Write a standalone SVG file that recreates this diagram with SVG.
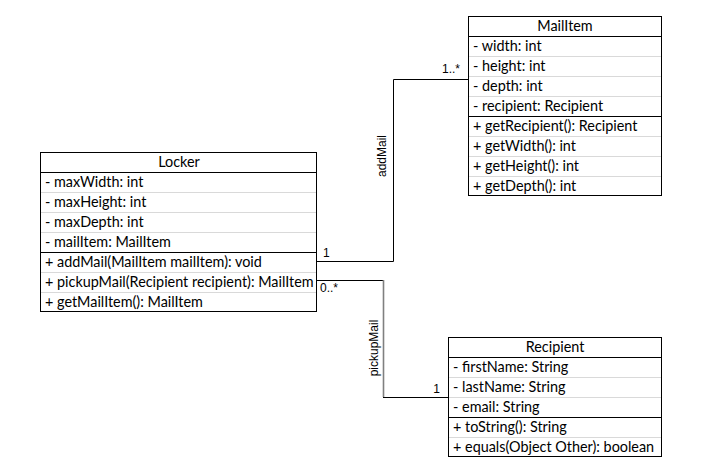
<svg xmlns="http://www.w3.org/2000/svg" width="721" height="473" viewBox="0 0 721 473">
<style>
.box{fill:#fff;stroke:#000;stroke-width:1}
.sep{stroke:#000;stroke-width:1}
.row{stroke:#d9d9d9;stroke-width:1}
.t{font-family:Lato,"Liberation Sans",sans-serif;font-size:14.4px;font-weight:400;fill:#000}
.c{text-anchor:middle}
.lbl{font-family:"Liberation Sans",Arial,sans-serif;font-size:12px;fill:#000}
.con{fill:none;stroke:#000;stroke-width:1}
</style>
<rect width="721" height="473" fill="#fff"/>
<g id="connectors">
<polyline class="con" points="317,261.5 393.5,261.5 393.5,79.5 468,79.5"/>
<polyline class="con" points="317,280.5 383.5,280.5"/>
<line x1="383.5" y1="280" x2="383.5" y2="397" stroke="#808080" stroke-width="1.6"/>
<polyline class="con" points="383,397.5 448,397.5"/>
<text class="lbl" x="323" y="257">1</text>
<text class="lbl" x="320" y="292">0..*</text>
<text class="lbl" x="460" y="73" text-anchor="end">1..*</text>
<text class="lbl" x="440" y="393" text-anchor="end">1</text>
<text class="lbl" transform="translate(386,156) rotate(-90)" text-anchor="middle">addMail</text>
<text class="lbl" transform="translate(378,348) rotate(-90)" text-anchor="middle">pickupMail</text>
</g>
<g id="MailItem">
<rect class="box" x="468.5" y="16.5" width="193" height="179"/>
<line class="row" x1="469" y1="56.5" x2="661" y2="56.5"/>
<line class="row" x1="469" y1="76.5" x2="661" y2="76.5"/>
<line class="row" x1="469" y1="96.5" x2="661" y2="96.5"/>
<line class="row" x1="469" y1="136.5" x2="661" y2="136.5"/>
<line class="row" x1="469" y1="156.5" x2="661" y2="156.5"/>
<line class="row" x1="469" y1="176.5" x2="661" y2="176.5"/>
<line class="sep" x1="468" y1="36.5" x2="662" y2="36.5"/>
<line class="sep" x1="468" y1="116.5" x2="662" y2="116.5"/>
<text class="t c" x="565" y="31">MailItem</text>
<text class="t" x="473" y="51">- width: int</text>
<text class="t" x="473" y="71">- height: int</text>
<text class="t" x="473" y="91">- depth: int</text>
<text class="t" x="473" y="111">- recipient: Recipient</text>
<text class="t" x="473" y="131">+ getRecipient(): Recipient</text>
<text class="t" x="473" y="151">+ getWidth(): int</text>
<text class="t" x="473" y="171">+ getHeight(): int</text>
<text class="t" x="473" y="191">+ getDepth(): int</text>
</g>
<g id="Locker">
<rect class="box" x="40.5" y="152.5" width="276" height="159"/>
<line class="row" x1="41" y1="192.5" x2="316" y2="192.5"/>
<line class="row" x1="41" y1="212.5" x2="316" y2="212.5"/>
<line class="row" x1="41" y1="232.5" x2="316" y2="232.5"/>
<line class="row" x1="41" y1="272.5" x2="316" y2="272.5"/>
<line class="row" x1="41" y1="292.5" x2="316" y2="292.5"/>
<line class="sep" x1="40" y1="172.5" x2="317" y2="172.5"/>
<line class="sep" x1="40" y1="252.5" x2="317" y2="252.5"/>
<text class="t c" x="179" y="167">Locker</text>
<text class="t" x="45" y="187">- maxWidth: int</text>
<text class="t" x="45" y="207">- maxHeight: int</text>
<text class="t" x="45" y="227">- maxDepth: int</text>
<text class="t" x="45" y="247">- mailItem: MailItem</text>
<text class="t" x="45" y="267">+ addMail(MailItem mailItem): void</text>
<text class="t" x="45" y="287">+ pickupMail(Recipient recipient): MailItem</text>
<text class="t" x="45" y="307">+ getMailItem(): MailItem</text>
</g>
<g id="Recipient">
<rect class="box" x="448.5" y="337.5" width="213" height="119"/>
<line class="row" x1="449" y1="377.5" x2="661" y2="377.5"/>
<line class="row" x1="449" y1="397.5" x2="661" y2="397.5"/>
<line class="row" x1="449" y1="437.5" x2="661" y2="437.5"/>
<line class="sep" x1="448" y1="357.5" x2="662" y2="357.5"/>
<line class="sep" x1="448" y1="417.5" x2="662" y2="417.5"/>
<text class="t c" x="555" y="352">Recipient</text>
<text class="t" x="453" y="372">- firstName: String</text>
<text class="t" x="453" y="392">- lastName: String</text>
<text class="t" x="453" y="412">- email: String</text>
<text class="t" x="453" y="432">+ toString(): String</text>
<text class="t" x="453" y="452">+ equals(Object Other): boolean</text>
</g>
</svg>
